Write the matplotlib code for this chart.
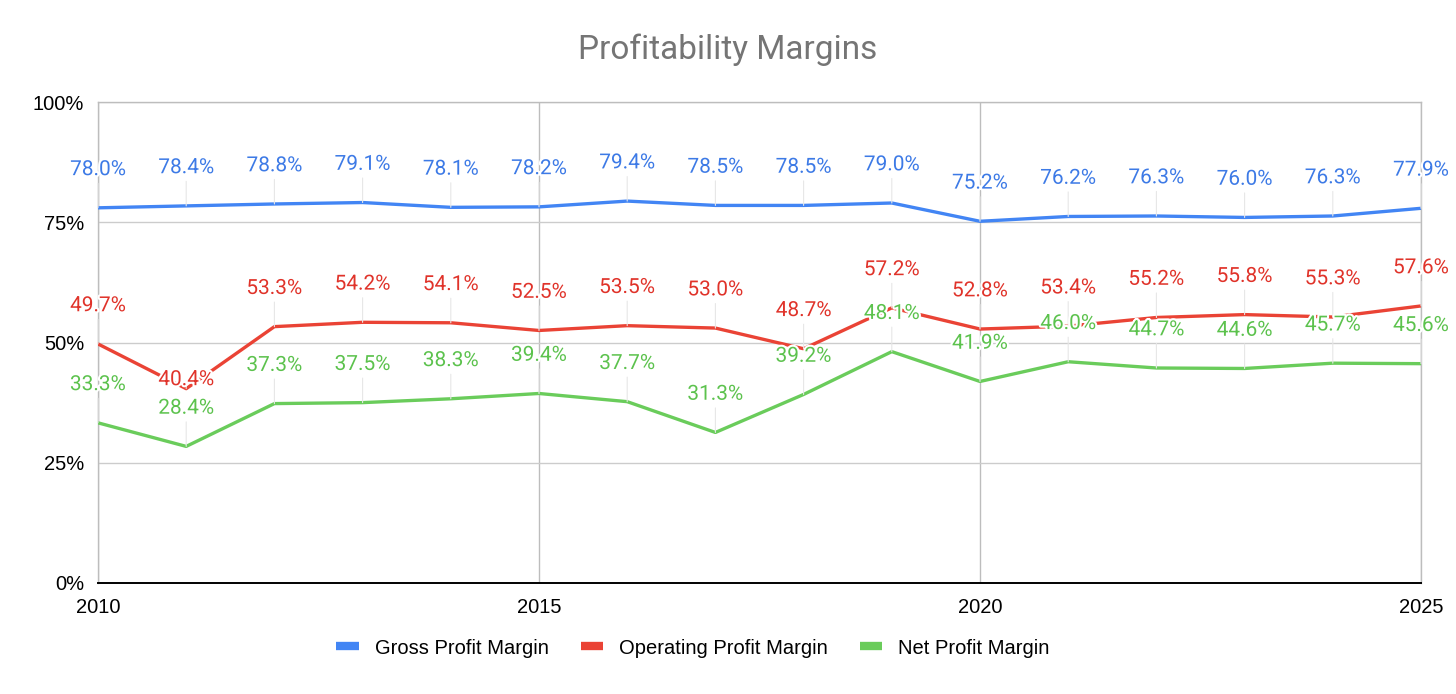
import matplotlib
matplotlib.use("Agg")
import matplotlib.pyplot as plt
import matplotlib.patheffects as pe
from matplotlib.lines import Line2D
from matplotlib.ticker import FuncFormatter

years = list(range(2010, 2026))
gross = [78.0, 78.4, 78.8, 79.1, 78.1, 78.2, 79.4, 78.5, 78.5, 79.0, 75.2, 76.2, 76.3, 76.0, 76.3, 77.9]
operating = [49.7, 40.4, 53.3, 54.2, 54.1, 52.5, 53.5, 53.0, 48.7, 57.2, 52.8, 53.4, 55.2, 55.8, 55.3, 57.6]
net = [33.3, 28.4, 37.3, 37.5, 38.3, 39.4, 37.7, 31.3, 39.2, 48.1, 41.9, 46.0, 44.7, 44.6, 45.7, 45.6]

series_names = ["Gross Profit Margin", "Operating Profit Margin", "Net Profit Margin"]
line_colors = ["#4285f4", "#ea4335", "#6acc5b"]
text_colors = ["#3d7ae6", "#e0332a", "#5cc24d"]

fig = plt.figure(figsize=(14.56, 6.94), dpi=100)
ax = fig.add_axes([98 / 1456, 111 / 694, 1323 / 1456, 481 / 694])

all_series = [gross, operating, net]
for vals, name, lc, tc in zip(all_series, series_names, line_colors, text_colors):
    ax.plot(years, vals, color=lc, lw=2.4, zorder=3, solid_joinstyle="round")
    for i, (yr, v) in enumerate(zip(years, vals)):
        off = 27.5
        if name == "Operating Profit Margin" and yr == 2011:
            off = 6.5
        ax.annotate(f"{v:.1f}%", xy=(yr, v), xytext=(0, off), textcoords="offset points",
                    ha="center", va="center", fontsize=15, family="Roboto", color=tc,
                    zorder=5, annotation_clip=False,
                    path_effects=[pe.withStroke(linewidth=3, foreground="white")],
                    arrowprops=dict(arrowstyle="-", color="#e6e6e6", lw=0.8,
                                    shrinkA=1, shrinkB=0))

ax.set_xlim(2010, 2025)
ax.set_ylim(0, 100)
ax.set_xticks([2010, 2015, 2020, 2025])
ax.set_yticks([0, 25, 50, 75, 100])
ax.yaxis.set_major_formatter(FuncFormatter(lambda v, p: f"{v:.0f}%"))
ax.tick_params(length=0, labelsize=14.5, colors="black")
ax.tick_params(axis="x", pad=11)
ax.tick_params(axis="y", pad=10)
for lab in ax.get_xticklabels() + ax.get_yticklabels():
    lab.set_family("Liberation Sans")

ax.grid(axis="y", color="#cccccc", lw=1)
ax.grid(axis="x", color="#bdbdbd", lw=1)
ax.set_axisbelow(True)
for s in ["left", "right", "top"]:
    ax.spines[s].set_color("#bdbdbd")
    ax.spines[s].set_linewidth(1)
ax.spines["bottom"].set_color("black")
ax.spines["bottom"].set_linewidth(1.4)
ax.spines["bottom"].set_zorder(4)

fig.suptitle("Profitability Margins", x=728 / 1456, y=1 - 50 / 694, va="center",
             fontsize=24, family="Roboto", color="#757575")

handles = [Line2D([0], [0], color=c, lw=6, solid_capstyle="butt") for c in line_colors]
fig.legend(handles, series_names, loc="center", bbox_to_anchor=(693 / 1456, 1 - 648 / 694),
           ncol=3, frameon=False, handlelength=1.1, handletextpad=0.8, columnspacing=1.6,
           prop={"family": "Liberation Sans", "size": 14.5})

fig.savefig("out.png", dpi=100)
